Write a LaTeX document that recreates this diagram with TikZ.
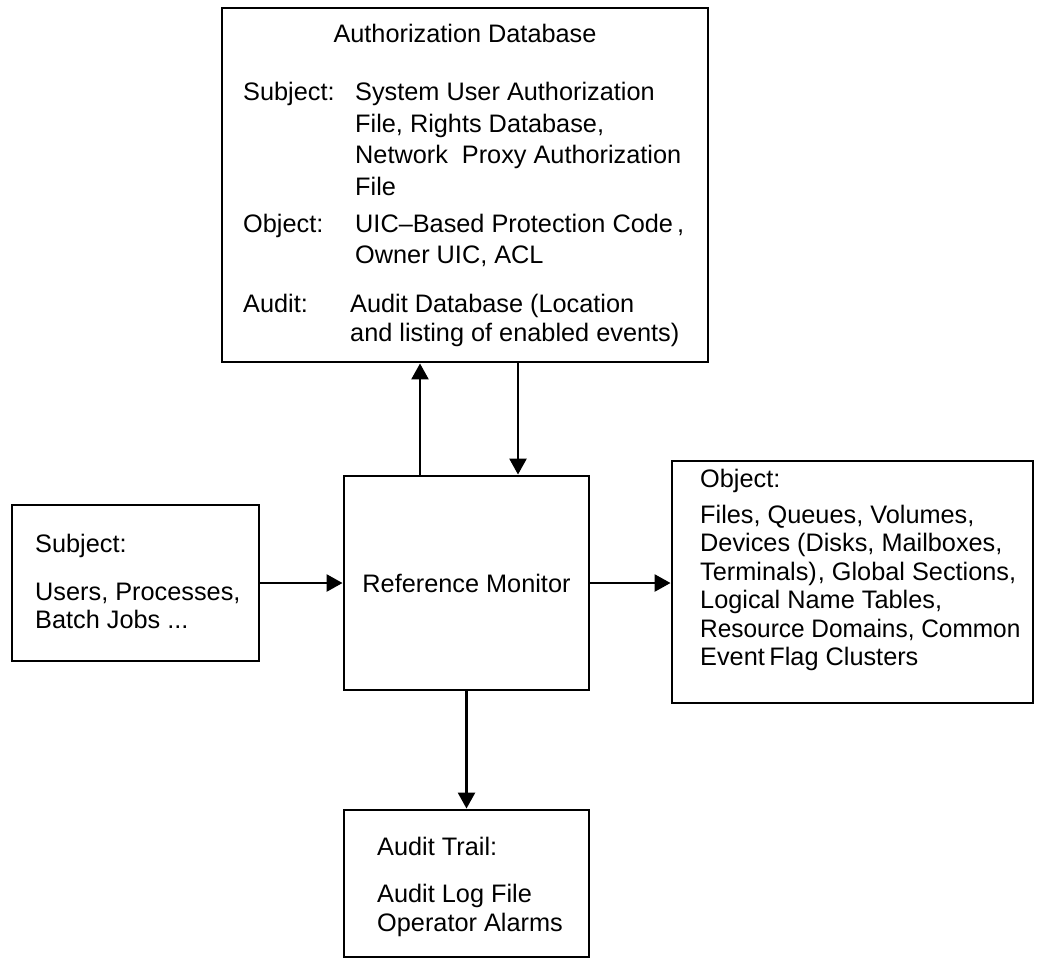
\documentclass[tikz,border=0pt]{standalone}
\usepackage{fontspec}
\setmainfont{Liberation Sans}
\usetikzlibrary{arrows.meta}
\begin{document}
\begin{tikzpicture}[x=1pt,y=-1pt,
  box/.style={draw=black, line width=2.9pt, rectangle, inner sep=0pt},
  txt/.style={anchor=base west, inner sep=0pt, font=\fontsize{25.3}{28.5}\selectfont},
  ctxt/.style={anchor=base, inner sep=0pt, font=\fontsize{25.3}{28.5}\selectfont},
  arr/.style={line width=2.6pt, -{Triangle[length=16pt,width=17pt]}}]
\useasboundingbox[fill=white] (0,0) rectangle (1038,967);

% boxes
\node[box, minimum width=486pt, minimum height=354pt] (adb) at (465,185) {};
\node[box, minimum width=245pt, minimum height=214pt] (rm) at (466.5,583) {};
\node[box, minimum width=247pt, minimum height=156pt] (subj) at (135.5,583) {};
\node[box, minimum width=361pt, minimum height=242pt] (obj) at (852.5,582) {};
\node[box, minimum width=245pt, minimum height=147pt] (trail) at (466.5,883.5) {};

% authorization database text
\node[ctxt] (adbtitle) at (465,42) {Authorization Database};
\node[txt] (as1) at (243,100) {Subject:};
\node[txt] (as2) at (355,100) {System User Authorization};
\node[txt] (as3) at (355,132) {File, Rights Database,};
\node[txt] (as4) at (355,163) {Network\hspace{0.55em}Proxy Authorization};
\node[txt] (as5) at (355,195) {File};
\node[txt] (ao1) at (243,232) {Object:};
\node[txt] (ao2) at (355,232) {UIC–Based Protection Code\,,};
\node[txt] (ao3) at (355,263) {Owner UIC, ACL};
\node[txt] (aa1) at (243,312) {Audit:};
\node[txt] (aa2) at (350,312) {Audit Database (Location};
\node[txt] (aa3) at (350,341) {and listing of enabled events)};

% reference monitor
\node[ctxt] (rmtext) at (466.5,592) {Reference Monitor};

% subject box
\node[txt] (s1) at (35,552) {Subject:};
\node[txt] (s2) at (35,600) {Users, Processes,};
\node[txt] (s3) at (35,628) {Batch Jobs ...};

% object box
\node[txt] (o1) at (700,487) {Object:};
\node[txt] (o2) at (700,523) {Files, Queues, Volumes,};
\node[txt] (o3) at (700,551.5) {Devices (Disks, Mailboxes,};
\node[txt] (o4) at (700,580) {Terminals)\kern1pt, Global Sections,};
\node[txt] (o5) at (700,608.5) {Logical Name Tables,};
\node[txt] (o6) at (700,637) {\scalebox{0.965}[1]{Resource Domains, Common}};
\node[txt] (o7) at (700,665.5) {Event\hspace{-0.1em} Flag Clusters};

% audit trail
\node[txt] (t1) at (377,855) {Audit Trail:};
\node[txt] (t2) at (377,902) {Audit Log File};
\node[txt] (t3) at (377,931) {Operator Alarms};

% connectors
\coordinate (ux) at (420,0);
\coordinate (dx) at (518,0);
\draw[arr] (subj.east) -- (subj.east -| rm.west);
\draw[arr] (rm.east) -- (rm.east -| obj.west);
\draw[arr] (rm.north -| ux) -- (adb.south -| ux);
\draw[arr] (adb.south -| dx) -- (rm.north -| dx);
\draw[arr] (rm.south) -- (trail.north);
\end{tikzpicture}
\end{document}
